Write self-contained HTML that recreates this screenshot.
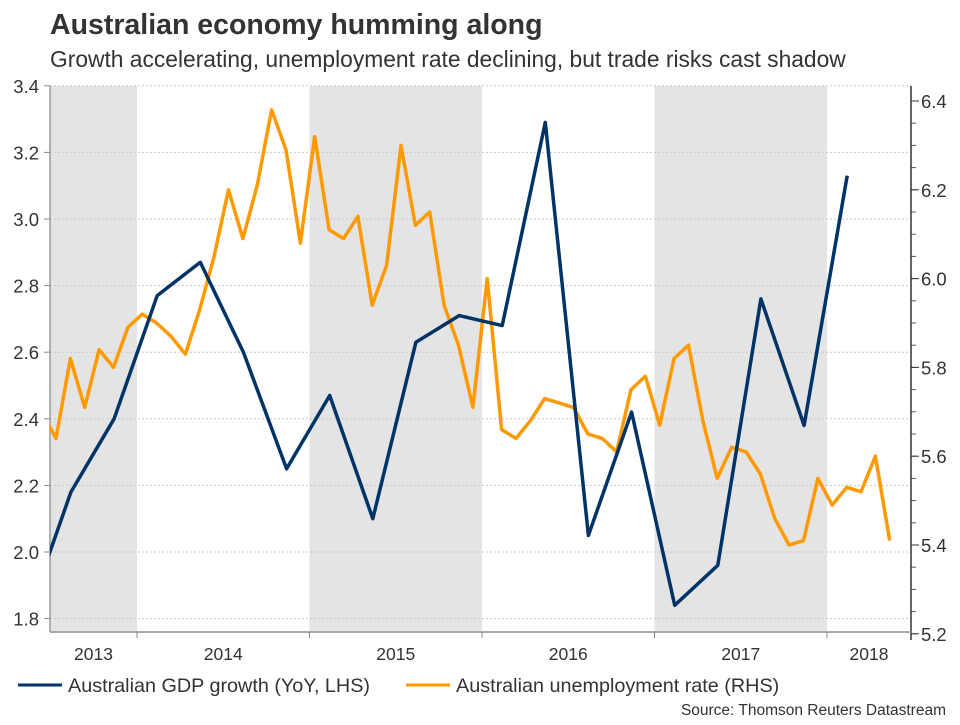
<!DOCTYPE html>
<html><head><meta charset="utf-8"><style>
body{margin:0;background:#fff;font-family:"Liberation Sans",Arial,sans-serif;}
svg text{font-family:"Liberation Sans",Arial,sans-serif;fill:#333;}
</style></head><body>
<svg id="chart" width="960" height="720" viewBox="0 0 960 720">
<text x="50" y="34" font-size="28.5" font-weight="bold">Australian economy humming along</text>
<text x="50" y="67" font-size="22.8">Growth accelerating, unemployment rate declining, but trade risks cast shadow</text>
<g id="bands"></g><g id="grid"></g><g id="axes"></g><g id="series"></g>
<g>
<line x1="18" y1="685" x2="62" y2="685" stroke="#003366" stroke-width="3"/>
<text x="68" y="692" font-size="19.8">Australian GDP growth (YoY, LHS)</text>
<line x1="406" y1="685" x2="450" y2="685" stroke="#ff9900" stroke-width="3"/>
<text x="456" y="692" font-size="19.8">Australian unemployment rate (RHS)</text>
</g>
<text x="946" y="715" font-size="15.5" text-anchor="end">Source: Thomson Reuters Datastream</text>
</svg>
<script>
const years = [2013, 2014, 2015, 2016, 2017, 2018];
const shadedYears = [2013, 2015, 2017];
const leftTicks = [1.8, 2.0, 2.2, 2.4, 2.6, 2.8, 3.0, 3.2, 3.4];
const rightTicks = [5.2, 5.4, 5.6, 5.8, 6.0, 6.2, 6.4];
const gdpStart = 2013.367;
const gdpValues = [1.81,2.18,2.40,2.77,2.87,2.60,2.25,2.47,2.10,2.63,2.71,2.68,3.29,2.05,2.42,1.84,1.96,2.76,2.38,3.13];
const unempStart = 2013.447;
const unempValues = [5.70,5.64,5.82,5.71,5.84,5.80,5.89,5.92,5.90,5.87,5.83,5.93,6.05,6.20,6.09,6.21,6.38,6.29,6.08,6.32,6.11,6.09,6.14,5.94,6.03,6.30,6.12,6.15,5.94,5.85,5.71,6.00,5.66,5.64,5.68,5.73,5.72,5.71,5.65,5.64,5.61,5.75,5.78,5.67,5.82,5.85,5.68,5.55,5.62,5.61,5.56,5.46,5.40,5.41,5.55,5.49,5.53,5.52,5.60,5.41];

const NS='http://www.w3.org/2000/svg';
const L=50,R=911,T=86,B=632;
const X=t=>137+(t-2014)*172.5;
const YL=v=>552-(v-2.0)*333;
const YR=v=>545-(v-5.4)*444;
function mk(tag,attrs,parent){const e=document.createElementNS(NS,tag);for(const k in attrs)e.setAttribute(k,attrs[k]);parent.appendChild(e);return e;}
const bands=document.getElementById('bands'),grid=document.getElementById('grid'),axes=document.getElementById('axes'),series=document.getElementById('series');
shadedYears.forEach(y=>{const x0=Math.max(L,X(y)),x1=Math.min(R,X(y+1));
const r=mk('rect',{x:x0,y:T,width:x1-x0,height:B-T,fill:'#e4e4e4'},bands);

});
leftTicks.forEach(v=>{const y=YL(v);
const g=mk('line',{x1:L,x2:R,y1:y,y2:y,stroke:'#c8c8c8','stroke-dasharray':'2,2'},grid);


mk('line',{x1:44,x2:L,y1:y,y2:y,stroke:'#888'},axes);
const t=mk('text',{x:39,y:y+7,'font-size':18.5,'text-anchor':'end'},axes);t.textContent=v.toFixed(1);

});
for(let v=5.2;v<=6.42;v+=0.05){mk('line',{x1:R,x2:R+5,y1:YR(v),y2:YR(v),stroke:'#555'},axes);}
rightTicks.forEach(v=>{const y=YR(v);mk('line',{x1:R,x2:R+8,y1:y,y2:y,stroke:'#333'},axes);
const t=mk('text',{x:921,y:y+7,'font-size':18.5},axes);t.textContent=v.toFixed(1);

});
const la=mk('line',{x1:L,x2:L,y1:T,y2:B,stroke:'#999','stroke-width':1.5},axes);

const ra=mk('line',{x1:R,x2:R,y1:T,y2:B+8,stroke:'#333','stroke-width':1.5},axes);

const xa=mk('line',{x1:L,x2:R,y1:B,y2:B,stroke:'#aaa','stroke-width':2},axes);

years.forEach(y=>{if(X(y)>L&&X(y)<R)mk('line',{x1:X(y),x2:X(y),y1:B,y2:B+6,stroke:'#888'},axes);
const xm=Math.max(L,X(y))+ (Math.min(R,X(y+1))-Math.max(L,X(y)))/2;
const t=mk('text',{x:xm,y:660,'font-size':17.5,'text-anchor':'middle'},axes);t.textContent=y;

});
const cp=mk('clipPath',{id:'clip'},series);mk('rect',{x:L,y:T-20,width:R-L,height:B-T+20},cp);
const g=mk('g',{'clip-path':'url(#clip)'},series);
const up=unempValues.map((v,i)=>X(unempStart+i/12).toFixed(1)+','+YR(v).toFixed(1)).join(' ');
const ul=mk('polyline',{points:up,fill:'none',stroke:'#ff9900','stroke-width':3.5,'stroke-linejoin':'round'},g);

const gp=gdpValues.map((v,i)=>X(gdpStart+i/4).toFixed(1)+','+YL(v).toFixed(1)).join(' ');
const gl=mk('polyline',{points:gp,fill:'none',stroke:'#003366','stroke-width':3.5,'stroke-linejoin':'round'},g);

</script>
</body></html>
